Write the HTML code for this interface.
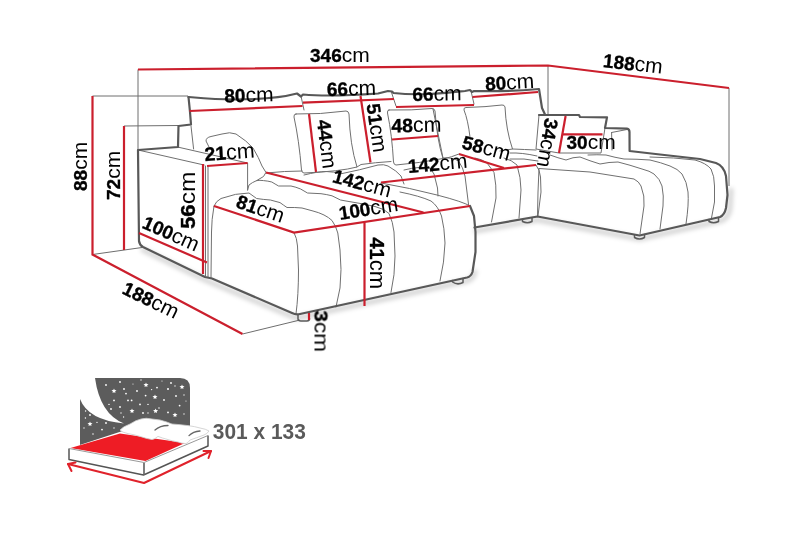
<!DOCTYPE html>
<html><head><meta charset="utf-8">
<style>
html,body{margin:0;padding:0;background:#fff;}
body{width:800px;height:533px;overflow:hidden;font-family:"Liberation Sans",sans-serif;}
svg{display:block}
text{font-family:"Liberation Sans",sans-serif;fill:#000}
.b{font-weight:bold;font-size:19px;stroke:#000;stroke-width:.35px}
.r{font-weight:normal;font-size:21px}
</style></head><body>
<svg width="800" height="533" viewBox="0 0 800 533">
<rect width="800" height="533" fill="#fff"/>

<!-- GUIDES -->
<g id="guides" stroke="#6e6e6e" stroke-width="1" fill="none">
<path d="M138,69.5V150"/>
<path d="M92.5,96H188"/>
<path d="M124,126L178,125.5"/>
<path d="M92.5,254.5L142,247.5"/>
<path d="M242.5,334L300,320"/>
<path d="M548,65.5V114"/>
<path d="M729,88V186"/>
</g>

<defs><filter id="bl" x="-10%" y="-10%" width="120%" height="130%"><feGaussianBlur stdDeviation="2.2"/></filter></defs>
<g id="shadow" filter="url(#bl)" stroke="#000" stroke-opacity="0.16" stroke-width="5" fill="none" stroke-linecap="round" stroke-linejoin="round">
<path d="M143,250L205,280L292,316.5Q296,318.5 300,317.5L467,281Q473,279 475,272"/>
<path d="M476,231L537.5,220L639.5,239L722,220.5Q729,217 730,208L731,190"/>
</g>
<!-- THIN -->
<g id="thin" stroke="#707070" stroke-width="1" fill="none" stroke-linecap="round" stroke-linejoin="round">
<!-- armrest -->
<path d="M138,150L204,165"/>
<path d="M177.5,147L247.6,163V190"/>
<path d="M191,126L193.6,149"/>
<path d="M205.5,166V276"/>
<path d="M208,166.5V277"/>
<!-- backrest cushion seps -->
<path d="M301,96L304,110"/>
<path d="M391.5,92.5L396,106"/>
<path d="M471,91L474,104"/>
<!-- irregular pillow -->
<path d="M209,147L206,141Q206,137.5 211,136.5L222,134Q230,131.5 236,134Q247,141 253,148Q259,158 262,166L266,172.5"/>
<!-- pillow 44 -->
<path d="M296,114Q320,114.5 346,111Q348.5,111 349,114Q350,145 357,167Q340,171.5 304,173Q302,173 301.5,170Q299,140 294,117Q293.5,114 296,114Z"/>
<!-- pillow 48 -->
<path d="M389,110Q412,110.5 432,108.5Q434.5,108.5 435,111Q437,140 443,158.5Q420,163 396,165Q394,165 393.5,162Q392,135 387.5,113Q387,110 389,110Z"/>
<path d="M433,109L443,158"/>
<!-- pillow 58 -->
<path d="M470,137Q468,120 464,110Q463.5,107.5 466,107.5Q486,107 502,105Q504.5,104.8 505,107Q506,130 512.5,149L500,151"/>
<!-- seat back line -->
<path d="M266,173Q285,171 302,171"/>
<path d="M357,167L361,164.5Q375,162.5 391,161.5"/>
<path d="M443,159Q452,157 459,154"/>
<path d="M512.5,149Q525,149.5 536,150"/>
<path d="M510,153Q522,152.5 537,156M510,159Q524,158 538,161"/>
<!-- back sofa seat waves -->
<path d="M304,175Q318,171.5 326,171.5T340,174Q360,170 378,165Q384,164 388,166Q397,171 401,176L404,184"/>
<path d="M404,170Q420,166 430,168L434,174L437.5,188L438,196"/>
<path d="M443,158Q452,157 458.5,161Q463,167 465,176L468.6,205"/>
<path d="M475,158Q482,159 487,163L494,172.5Q496.5,185 496,198L491.5,222"/>
<path d="M504,158Q512,160 517,165Q521,178 521,190L519,218"/>
<path d="M536,165Q540,170 540.5,177L541,192L538,216"/>
<!-- left chaise -->
<path d="M214,206Q216,201 221,198.5Q236,193 249,193L256.6,198.5Q263,199.5 270.4,200L280,202.6Q284,205.5 287,207.5Q295,207.3 302,208L313,211Q319,212.5 324,215Q329,217.5 332,220.5Q336,226 337.8,233L340,250Q342,270 340,288L336,307"/>
<path d="M214,206Q211.5,220 211.5,232L211,278"/>
<path d="M294,232.5Q297,238 297.5,246L298.5,270Q298.5,295 296,314"/>
<path d="M247.6,190L249,185Q252,182.5 256.6,180.6L263.5,176.5L265.6,173M256.6,180.6Q260,180 263.5,180.6Q268,181 271.8,182Q275,184 278.6,186L291,186Q296,187 300.6,189L307.5,193L321,193.7Q327,194.5 332,195.8L340.5,200L346,201Q362,203.5 375,206.5Q385,209 389,213.5Q393,222 394,232L395,256Q395,275 391,292.5"/>
<path d="M400,192Q420,196 431,201Q438,206 441.5,216Q444.5,228 445,243Q444.5,262 440,281"/>
<!-- foot left chaise -->
<g stroke="#5a5a5a" stroke-width="1.5">
<path d="M298,315V319Q298,321 301,321H307Q309.5,321 309.5,318.5"/>
<path d="M452.5,280.5V282Q457.5,285.5 463,282.5V278.5"/>
<path d="M522.5,219.5V221.5Q527.5,224 532,221.5V218"/>
<path d="M634.5,235V237.5Q639.5,240.5 644.5,237.5V234.5"/>
<path d="M709,219.5V221.5Q713.5,224 718.5,221.5V217.5"/>
</g>
<!-- right chaise -->
<path d="M539,168.5L538,192L537.5,216"/>
<path d="M539,168.5L590,172L634,179Q639,181.5 641,186Q645,196 644,206L640,234"/>
<path d="M550,155Q558,158 566,160Q573,157 580,157Q590,161 600,164Q609,162 618,162Q630,165 642,169Q650,171 654,174Q660,179 662,186Q664,196 663,206L660,229"/>
<path d="M588,155Q597,154.5 606,155Q615,157.5 624,159Q637,159 650,160Q661,162.5 670,166Q678,169 682,174Q687,182 688,192Q689,204 686,224"/>
<path d="M650,157Q675,157.5 695,160Q706,163 711,169Q714.5,176 714.5,186V202L711.5,218"/>
<path d="M611.6,132.5L627,129.5M611.6,132.5L612,150"/>
<path d="M539,115L536,149L559,153H601L605,128"/>
<path d="M381,183Q410,188 437,195T470,206"/>
</g>

<!-- THICK -->
<g id="thick" stroke="#585858" stroke-width="2.2" fill="none" stroke-linecap="round" stroke-linejoin="round">
<path d="M188.5,97L190,112L191,124.5L178.5,126L178,147L138,150L139,241Q139.5,245 143,247L205,277L212,278.5L292,313Q296,315 300,314L467,277.5Q471,276.5 472.5,272L475.5,252L475.5,232L474,216L470,206"/>
<path d="M188.5,97C200,98 215,99.5 235,99.5S280,98 297,93.5L301,96.5L303,94.5C320,96 350,95.5 378,93.5L388,91L392,91.5L393.5,93C420,96 445,93 465,91L470,90L472,92L474,91C490,91.5 515,91 539,89L542,108L545,114.5"/>
<path d="M474.5,227.5L537.5,216.5L639.5,235.5L720,217Q724.5,215 726,208L727.5,195L726,176Q724,166 716,163L700,159L660,154.5L629.6,151L629.5,132Q629.5,129 627,128.6L605,128L607,117.4L580,117L579,115L539,115"/>
</g>

<!-- RED -->
<g id="red" stroke="#cb1f2d" stroke-width="2.2" fill="none" stroke-linecap="butt">
<path d="M138,69.5L548,65.5L729,88"/>
<path d="M92.5,96V254.5L242.5,334"/>
<path d="M124,126V250"/>
<path d="M203,164V274"/>
<path d="M139,233L207,262.5"/>
<path d="M207,166L247.6,163"/>
<path d="M189.5,111L302.5,106"/>
<path d="M303,102.6L394,99"/>
<path d="M360.5,96L370.5,162.5"/>
<path d="M396,107L474,105"/>
<path d="M472.5,97L538,92"/>
<path d="M309,114L316,172"/>
<path d="M392,139.5L438,136"/>
<path d="M459,154L504,168"/>
<path d="M381,182.5L536,165"/>
<path d="M266,172.5L423.5,212.5"/>
<path d="M214,206L294,232.5L470,206"/>
<path d="M364.5,222.5V306"/>
<path d="M309,313V320"/>
<path d="M565.6,116L559,153"/>
<path d="M563,134.3H602.5"/>
</g>

<!-- TEXT -->
<g id="labels" opacity="0.999">
<text transform="translate(310,62) rotate(0)"><tspan class="b">346</tspan><tspan class="r">cm</tspan></text>
<text transform="translate(602.5,67) rotate(6.5)"><tspan class="b">188</tspan><tspan class="r">cm</tspan></text>
<text transform="translate(224.5,102.5) rotate(-1.5)"><tspan class="b">80</tspan><tspan class="r">cm</tspan></text>
<text transform="translate(327,96) rotate(-1.5)"><tspan class="b">66</tspan><tspan class="r">cm</tspan></text>
<text transform="translate(412.5,101) rotate(-1)"><tspan class="b">66</tspan><tspan class="r">cm</tspan></text>
<text transform="translate(485.5,90.5) rotate(-3)"><tspan class="b">80</tspan><tspan class="r">cm</tspan></text>
<text transform="translate(366.5,104.5) rotate(82)"><tspan class="b">51</tspan><tspan class="r">cm</tspan></text>
<text transform="translate(317,120.5) rotate(83)"><tspan class="b">44</tspan><tspan class="r">cm</tspan></text>
<text transform="translate(391.5,132.5) rotate(-1) scale(1.02)"><tspan class="b">48</tspan><tspan class="r">cm</tspan></text>
<text transform="translate(461,148.2) rotate(15)"><tspan class="b">58</tspan><tspan class="r">cm</tspan></text>
<text transform="translate(545.3,117.5) rotate(100)"><tspan class="b">34</tspan><tspan class="r">cm</tspan></text>
<text transform="translate(566.5,148.5) rotate(0)"><tspan class="b">30</tspan><tspan class="r">cm</tspan></text>
<text transform="translate(331.5,182) rotate(15)"><tspan class="b">142</tspan><tspan class="r">cm</tspan></text>
<text transform="translate(408.5,173) rotate(-5)"><tspan class="b">142</tspan><tspan class="r">cm</tspan></text>
<text transform="translate(205,161) rotate(-4) scale(1.02)"><tspan class="b">21</tspan><tspan class="r">cm</tspan></text>
<text transform="translate(195.3,229) rotate(-90) scale(1.17,1.03)"><tspan class="b">56</tspan><tspan class="r">cm</tspan></text>
<text transform="translate(141,227.5) rotate(24)"><tspan class="b">100</tspan><tspan class="r">cm</tspan></text>
<text transform="translate(235,207) rotate(19)"><tspan class="b">81</tspan><tspan class="r">cm</tspan></text>
<text transform="translate(340,220) rotate(-9)"><tspan class="b">100</tspan><tspan class="r">cm</tspan></text>
<text transform="translate(370,237.5) rotate(90) scale(1.05)"><tspan class="b">41</tspan><tspan class="r">cm</tspan></text>
<text transform="translate(314.5,310.5) rotate(90) scale(1.08,1)"><tspan class="b">3</tspan><tspan class="r">cm</tspan></text>
<text transform="translate(87,191) rotate(-90)"><tspan class="b">88</tspan><tspan class="r">cm</tspan></text>
<text transform="translate(120,200) rotate(-90)"><tspan class="b">72</tspan><tspan class="r">cm</tspan></text>
<text transform="translate(121,293) rotate(26)"><tspan class="b">188</tspan><tspan class="r">cm</tspan></text>
</g>

<!-- BED -->
<g id="bed">
<path d="M95,378H180Q190,378 190,388V446H80V399Q88,420 124,423.5Q100,414 95,378Z" fill="#5c5c5c"/>
<g fill="#fff"><circle cx="106" cy="385" r="0.90"/><circle cx="120" cy="382" r="0.90"/><polygon points="114.0,388.4 114.7,390.1 116.5,390.2 115.1,391.4 115.5,393.1 114.0,392.2 112.5,393.1 112.9,391.4 111.5,390.2 113.3,390.1"/><circle cx="124" cy="389" r="0.90"/><circle cx="126" cy="393.6" r="0.90"/><circle cx="137" cy="391" r="0.90"/><polygon points="146.0,382.4 146.7,384.1 148.5,384.2 147.1,385.4 147.5,387.1 146.0,386.2 144.5,387.1 144.9,385.4 143.5,384.2 145.3,384.1"/><circle cx="141" cy="380" r="0.63"/><circle cx="157" cy="387.6" r="0.90"/><circle cx="151.6" cy="389.6" r="0.72"/><circle cx="168" cy="389" r="0.99"/><circle cx="171" cy="383" r="0.90"/><polygon points="182.0,384.4 182.7,386.1 184.5,386.2 183.1,387.4 183.5,389.1 182.0,388.2 180.5,389.1 180.9,387.4 179.5,386.2 181.3,386.1"/><circle cx="175" cy="386" r="0.63"/><polygon points="155.0,394.4 155.7,396.1 157.5,396.2 156.1,397.4 156.5,399.1 155.0,398.2 153.5,399.1 153.9,397.4 152.5,396.2 154.3,396.1"/><circle cx="145.6" cy="395.6" r="0.90"/><circle cx="164" cy="400" r="0.90"/><circle cx="176" cy="396" r="0.90"/><circle cx="184" cy="395" r="0.63"/><circle cx="179.6" cy="405.6" r="0.90"/><circle cx="114" cy="400.4" r="0.90"/><circle cx="128" cy="400.4" r="0.90"/><circle cx="131.6" cy="400.4" r="0.90"/><circle cx="140" cy="404.4" r="0.90"/><circle cx="148" cy="404.4" r="0.72"/><circle cx="159" cy="408" r="0.72"/><polygon points="155.6,408.4 156.3,410.1 158.1,410.2 156.7,411.4 157.1,413.1 155.6,412.2 154.1,413.1 154.5,411.4 153.1,410.2 154.9,410.1"/><polygon points="132.0,408.4 132.7,410.1 134.5,410.2 133.1,411.4 133.5,413.1 132.0,412.2 130.5,413.1 130.9,411.4 129.5,410.2 131.3,410.1"/><circle cx="120" cy="407" r="0.90"/><circle cx="111" cy="409" r="0.90"/><circle cx="109" cy="404.4" r="0.72"/><circle cx="143" cy="413" r="0.90"/><circle cx="148" cy="413" r="0.63"/><circle cx="168" cy="412.4" r="0.90"/><polygon points="175.0,412.4 175.7,414.1 177.5,414.2 176.1,415.4 176.5,417.1 175.0,416.2 173.5,417.1 173.9,415.4 172.5,414.2 174.3,414.1"/><circle cx="184" cy="414" r="0.63"/><circle cx="121" cy="413" r="0.63"/><circle cx="123.6" cy="417" r="0.63"/><circle cx="85.6" cy="411" r="0.72"/><circle cx="90" cy="415" r="0.90"/><circle cx="85.4" cy="418" r="0.72"/><polygon points="90.0,421.4 90.7,423.1 92.5,423.2 91.1,424.4 91.5,426.1 90.0,425.2 88.5,426.1 88.9,424.4 87.5,423.2 89.3,423.1"/><circle cx="97" cy="422.4" r="0.63"/><circle cx="106" cy="423" r="0.90"/><circle cx="102" cy="429.6" r="0.90"/><circle cx="114" cy="428" r="0.63"/><circle cx="93" cy="434" r="0.72"/><circle cx="84" cy="428" r="0.63"/><circle cx="133" cy="384" r="0.54"/><circle cx="162" cy="381" r="0.54"/><circle cx="186" cy="401" r="0.54"/><circle cx="150" cy="420" r="0.54"/></g>
<!-- mattress -->
<path d="M66,449.5L121,431.5L212,434L212,450L144,480L66,464Z" fill="#fff"/>
<path d="M70.5,448L120,433.5L185,443L145.5,461Z" fill="#ee1c25"/>
<path d="M69,448.5V459.5L143.5,475L208,446V435.5" fill="none" stroke="#555" stroke-width="1.5" stroke-linejoin="round"/>
<path d="M69,448.5L144,462.5L208,435.5M144,462.5V475" fill="none" stroke="#999" stroke-width="1"/>
<path d="M144,463V475" stroke="#555" stroke-width="1.3" fill="none"/>
<!-- pillows -->
<path d="M120,430Q124,426 130,424Q136,420 141,419Q146,417.5 152,419L160,420Q166,421.5 172,424Q180,424.5 188,425.6Q195,426.5 200,428Q206,429 209,431Q207,434 204,435Q196,438 190,440Q188,443 186,443.6Q182,443.5 178,442Q172,441 168,439.6Q162,438 158,436.4Q155,439 152,439.6Q146,438.5 140,436.4Q134,434.5 128,433.6Q122,432.5 120,430Z" fill="#fff" stroke="#ccc" stroke-width="0.8"/>
<path d="M155,430Q160,425.5 168,425.5" fill="none" stroke="#666" stroke-width="1.3" stroke-linecap="round"/>
<path d="M189,435.6Q193,431.5 200,431" fill="none" stroke="#666" stroke-width="1.3" stroke-linecap="round"/>
<!-- arrows -->
<g fill="none" stroke="#e0222b" stroke-width="2" stroke-linecap="round" stroke-linejoin="round">
<path d="M68,464L144,483L211,451"/>
<path d="M75.5,462.5L68,464L71.5,471"/>
<path d="M203.5,451L211,451L208.5,458"/>
</g>
<text x="212.8" y="438.6" opacity="0.999" style="font-weight:bold;font-size:21.4px;fill:#5a5a5a" textLength="93" lengthAdjust="spacingAndGlyphs">301 x 133</text>
</g>
</svg>
</body></html>
